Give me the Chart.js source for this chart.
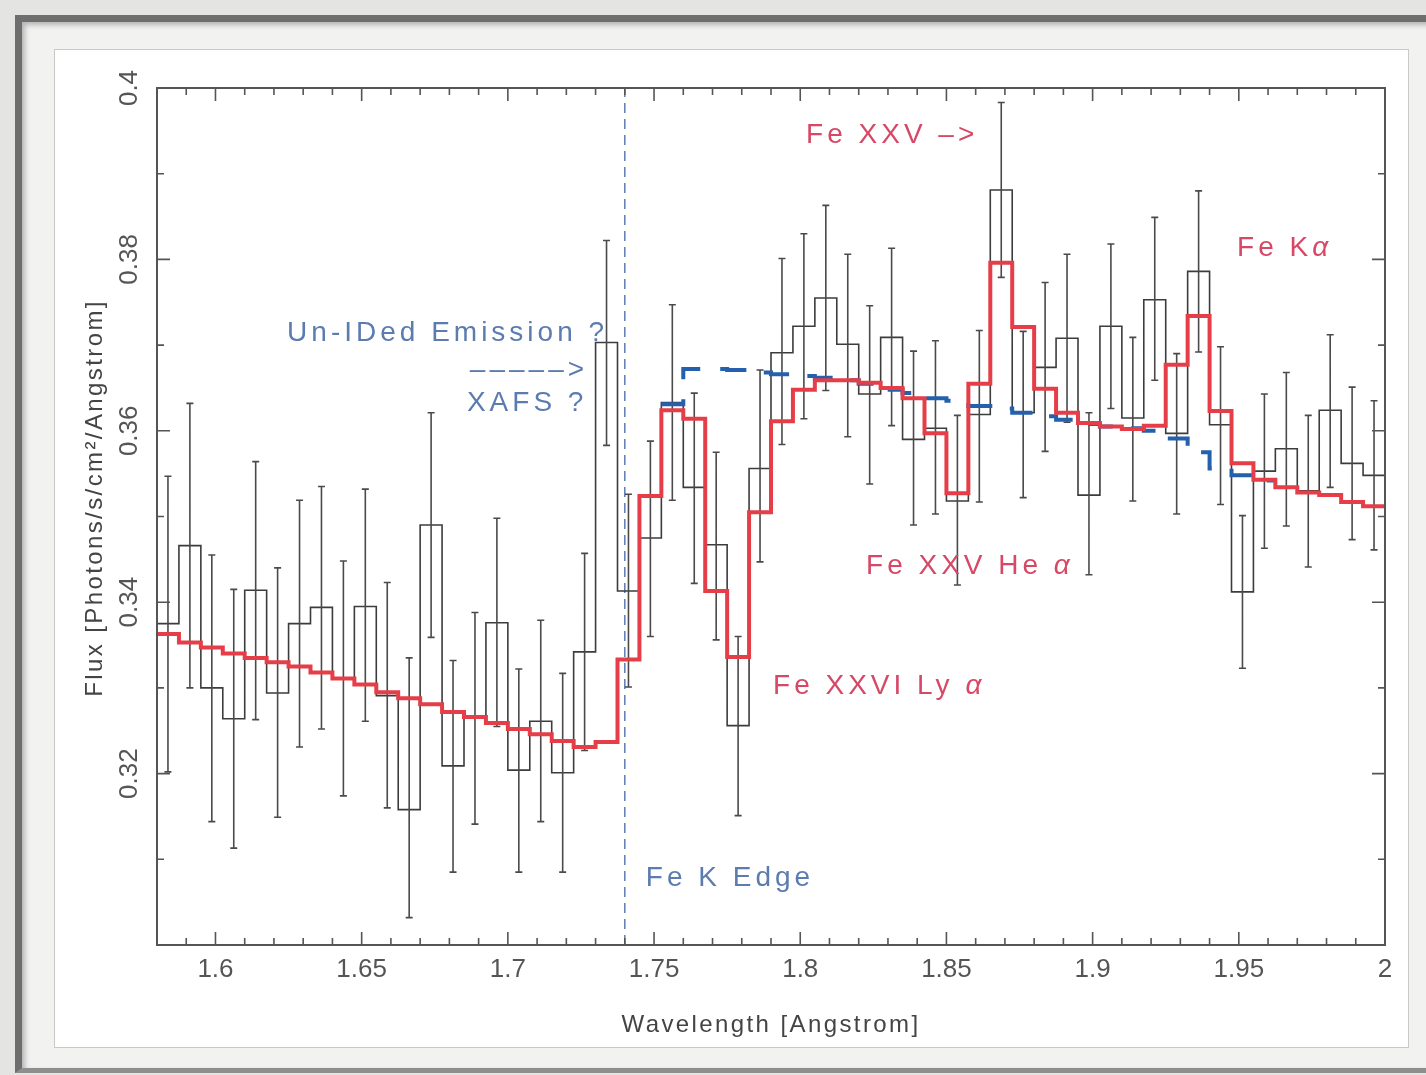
<!DOCTYPE html>
<html>
<head>
<meta charset="utf-8">
<title>Fe K region spectrum</title>
<script src="https://cdn.jsdelivr.net/npm/chart.js@4.4.1/dist/chart.umd.min.js"></script>
<style>
  html, body { margin: 0; padding: 0; }
  body { width: 1426px; height: 1075px; overflow: hidden; position: relative; background: #e4e4e2; }
  .frame {
    position: absolute; left: 15px; top: 15px; width: 1440px; height: 1046px;
    background: #f2f2f1;
    border-left: 7px solid #6e6e6e; border-top: 7px solid #6e6e6e; border-bottom: 5px solid #8e8e8e;
    box-shadow: inset 3px 3px 5px rgba(0, 0, 0, 0.25);
  }
  #spectrum { position: absolute; left: 55px; top: 50px; background: #fff; box-shadow: 0 0 0 1px #c9c9c9; }
</style>
</head>
<body>
<div class="frame"></div>
<canvas id="spectrum" width="1353" height="997"></canvas>
<script>
// 56 bins of 0.0075 A from 1.58 to 2.0 A
const X_MIN = 1.58;
const X_MAX = 2.0;
const BIN = 0.0075;
const Y_MIN = 0.30;
const Y_MAX = 0.40;
const FE_K_EDGE = 1.74;

// measured flux per bin and its error bar ends
const flux = [
  0.3375, 0.3466, 0.3300, 0.3264, 0.3414, 0.3294, 0.3375, 0.3394, 0.3311, 0.3395,
  0.3291, 0.3158, 0.3490, 0.3209, 0.3265, 0.3376, 0.3204, 0.3261, 0.3201, 0.3342,
  0.3703, 0.3413, 0.3475, 0.3633, 0.3534, 0.3467, 0.3256, 0.3556, 0.3691, 0.3722,
  0.3755, 0.3701, 0.3643, 0.3709, 0.3590, 0.3603, 0.3518, 0.3619, 0.3881, 0.3621,
  0.3674, 0.3708, 0.3525, 0.3722, 0.3615, 0.3753, 0.3597, 0.3786, 0.3607, 0.3412,
  0.3553, 0.3579, 0.3530, 0.3624, 0.3562, 0.3548
];
const fluxHi = [
  0.3547, 0.3632, 0.3455, 0.3415, 0.3564, 0.3440, 0.3519, 0.3535, 0.3448, 0.3532,
  0.3423, 0.3335, 0.3621, 0.3332, 0.3388, 0.3498, 0.3322, 0.3379, 0.3317, 0.3457,
  0.3822, 0.3526, 0.3588, 0.3747, 0.3644, 0.3575, 0.3360, 0.3671, 0.3801, 0.3830,
  0.3863, 0.3806, 0.3746, 0.3813, 0.3693, 0.3705, 0.3618, 0.3717, 0.3983, 0.3716,
  0.3773, 0.3806, 0.3621, 0.3818, 0.3709, 0.3849, 0.3690, 0.3880, 0.3698, 0.3501,
  0.3643, 0.3668, 0.3618, 0.3712, 0.3651, 0.3635
];
const fluxLo = [
  0.3202, 0.3300, 0.3144, 0.3113, 0.3263, 0.3149, 0.3231, 0.3252, 0.3174, 0.3261,
  0.3160, 0.3032, 0.3359, 0.3085, 0.3141, 0.3255, 0.3085, 0.3144, 0.3085, 0.3227,
  0.3583, 0.3301, 0.3360, 0.3519, 0.3422, 0.3356, 0.3151, 0.3447, 0.3584, 0.3614,
  0.3647, 0.3593, 0.3538, 0.3606, 0.3490, 0.3503, 0.3420, 0.3517, 0.3779, 0.3522,
  0.3576, 0.3610, 0.3432, 0.3626, 0.3518, 0.3659, 0.3503, 0.3692, 0.3514, 0.3323,
  0.3463, 0.3489, 0.3441, 0.3534, 0.3473, 0.3461
];

// full model with the edge and the lines
const model = [
  0.3363, 0.3353, 0.3347, 0.3340, 0.3335, 0.3330, 0.3325, 0.3318, 0.3311, 0.3304,
  0.3295, 0.3288, 0.3281, 0.3272, 0.3266, 0.3259, 0.3252, 0.3246, 0.3238, 0.3231,
  0.3237, 0.3333, 0.3524, 0.3624, 0.3614, 0.3413, 0.3336, 0.3505, 0.3611, 0.3648,
  0.3659, 0.3659, 0.3656, 0.3650, 0.3638, 0.3597, 0.3527, 0.3655, 0.3796, 0.3721,
  0.3649, 0.3621, 0.3609, 0.3605, 0.3602, 0.3606, 0.3677, 0.3734, 0.3623, 0.3562,
  0.3543, 0.3534, 0.3528, 0.3525, 0.3517, 0.3512
];

// edge-only model, shown where it leaves the full model
const edgeModel = [
  null, null, null, null, null, null, null, null, null, null,
  null, null, null, null, null, null, null, null, null, null,
  null, null, null, 0.3631, 0.3672, 0.3672, 0.3671, 0.3668, 0.3666, 0.3664,
  0.3662, 0.3659, 0.3655, 0.3648, 0.3644, 0.3638, 0.3635, 0.3629, 0.3626, 0.3621,
  0.3617, 0.3613, 0.3608, 0.3605, 0.3603, 0.3600, 0.3591, 0.3575, 0.3556, 0.3548,
  0.3542, null, null, null, null, null
];

const xTicks = [1.6, 1.65, 1.7, 1.75, 1.8, 1.85, 1.9, 1.95, 2.0];
const xTickLabels = ['1.6', '1.65', '1.7', '1.75', '1.8', '1.85', '1.9', '1.95', '2'];
const yTicks = [0.32, 0.34, 0.36, 0.38, 0.40];
const yTickLabels = ['0.32', '0.34', '0.36', '0.38', '0.4'];

const RED = 'rgb(229, 62, 72)';
const BLUE = 'rgb(36, 96, 172)';
const EDGE_BLUE = 'rgb(92, 124, 184)';
const NOTE_BLUE = 'rgb(92, 124, 176)';
const NOTE_RED = 'rgb(214, 72, 102)';
const INK = '#4a4a4a';
const FONT = "'Liberation Sans', Arial, sans-serif";

const notes = [
  { text: 'Un-IDed Emission ?', x: 1.6245, y: 0.3714, color: NOTE_BLUE },
  { text: '–––––>', x: 1.6870, y: 0.3671, color: NOTE_BLUE },
  { text: 'XAFS ?', x: 1.6860, y: 0.3632, color: NOTE_BLUE },
  { text: 'Fe K Edge', x: 1.7472, y: 0.3078, color: NOTE_BLUE },
  { text: 'Fe XXV –>', x: 1.8020, y: 0.3945, color: NOTE_RED },
  { text: 'Fe Kα', x: 1.9494, y: 0.3813, color: NOTE_RED },
  { text: 'Fe XXV He α', x: 1.8225, y: 0.3442, color: NOTE_RED },
  { text: 'Fe XXVI Ly α', x: 1.7907, y: 0.3302, color: NOTE_RED }
];

const binEdge = i => X_MIN + i * BIN;

// one point per bin edge; each run of bins is closed at its right edge
function stepPoints(values) {
  const pts = [];
  values.forEach((v, i) => {
    pts.push({ x: binEdge(i), y: v });
    const next = values[i + 1];
    if (v !== null && (next === undefined || next === null)) {
      pts.push({ x: binEdge(i + 1), y: v });
    }
  });
  return pts;
}

// text with the Greek alpha set in italics
function drawNote(ctx, text, px, py) {
  let cx = px;
  text.split(/(α)/).forEach(part => {
    if (!part) return;
    ctx.font = (part === 'α' ? 'italic ' : '') + '28px ' + FONT;
    ctx.fillText(part, cx, py);
    cx += ctx.measureText(part).width;
  });
}

const errorBars = {
  id: 'errorBars',
  afterDatasetDraw(chart, args) {
    if (args.index !== 2) return;
    const { ctx, scales: { x, y } } = chart;
    ctx.save();
    ctx.strokeStyle = INK;
    ctx.lineWidth = 1.6;
    ctx.beginPath();
    flux.forEach((v, i) => {
      const px = x.getPixelForValue(binEdge(i) + BIN / 2);
      const top = y.getPixelForValue(fluxHi[i]);
      const bot = y.getPixelForValue(fluxLo[i]);
      ctx.moveTo(px, top); ctx.lineTo(px, bot);
      ctx.moveTo(px - 3.5, top); ctx.lineTo(px + 3.5, top);
      ctx.moveTo(px - 3.5, bot); ctx.lineTo(px + 3.5, bot);
    });
    ctx.stroke();
    ctx.restore();
  }
};

const axisFrame = {
  id: 'axisFrame',
  afterDatasetsDraw(chart) {
    const { ctx, chartArea: a, scales: { x, y } } = chart;
    ctx.save();

    // box and inward ticks on all four sides
    ctx.strokeStyle = '#555';
    ctx.lineWidth = 2;
    ctx.strokeRect(a.left, a.top, a.right - a.left, a.bottom - a.top);
    ctx.lineWidth = 1.6;
    ctx.beginPath();
    for (let k = 158; k <= 200; k++) {
      const px = x.getPixelForValue(k / 100);
      const len = k % 5 === 0 ? 13 : 7;
      ctx.moveTo(px, a.bottom); ctx.lineTo(px, a.bottom - len);
      ctx.moveTo(px, a.top); ctx.lineTo(px, a.top + len);
    }
    for (let k = 30; k <= 40; k++) {
      const py = y.getPixelForValue(k / 100);
      const len = k % 2 === 0 ? 13 : 7;
      ctx.moveTo(a.left, py); ctx.lineTo(a.left + len, py);
      ctx.moveTo(a.right, py); ctx.lineTo(a.right - len, py);
    }
    ctx.stroke();

    // rotated y tick labels
    ctx.fillStyle = '#555';
    ctx.font = '26px ' + FONT;
    ctx.textAlign = 'center';
    ctx.textBaseline = 'middle';
    yTicks.forEach((v, i) => {
      ctx.save();
      ctx.translate(a.left - 27, y.getPixelForValue(v));
      ctx.rotate(-Math.PI / 2);
      ctx.fillText(yTickLabels[i], 0, 0);
      ctx.restore();
    });

    // axis titles
    ctx.fillStyle = '#444';
    ctx.font = '24px ' + FONT;
    ctx.letterSpacing = '2.4px';
    ctx.fillText('Wavelength [Angstrom]', (a.left + a.right) / 2, a.bottom + 80);
    ctx.save();
    ctx.translate(a.left - 62, a.top + 410);
    ctx.rotate(-Math.PI / 2);
    ctx.fillText('Flux [Photons/s/cm²/Angstrom]', 0, 0);
    ctx.restore();

    // line identifications
    ctx.letterSpacing = '4px';
    ctx.textAlign = 'left';
    notes.forEach(n => {
      ctx.fillStyle = n.color;
      drawNote(ctx, n.text, x.getPixelForValue(n.x), y.getPixelForValue(n.y));
    });
    ctx.restore();
  }
};

const ctx = document.getElementById('spectrum').getContext('2d');

new Chart(ctx, {
  type: 'line',
  data: {
    datasets: [
      {
        label: 'Model',
        data: stepPoints(model),
        stepped: true,
        borderColor: RED,
        borderWidth: 4,
        pointRadius: 0,
        fill: false
      },
      {
        label: 'Edge only',
        data: stepPoints(edgeModel),
        stepped: true,
        borderColor: BLUE,
        borderWidth: 4,
        borderDash: [27, 20],
        pointRadius: 0,
        fill: false
      },
      {
        label: 'HETG data',
        data: stepPoints(flux),
        stepped: true,
        borderColor: '#3c3c3c',
        borderWidth: 1.6,
        pointRadius: 0,
        fill: false
      },
      {
        label: 'Fe K edge',
        data: [{ x: FE_K_EDGE, y: Y_MIN }, { x: FE_K_EDGE, y: Y_MAX }],
        borderColor: EDGE_BLUE,
        borderWidth: 1.5,
        borderDash: [10, 6],
        pointRadius: 0,
        fill: false
      }
    ]
  },
  options: {
    responsive: false,
    animation: false,
    devicePixelRatio: 1,
    spanGaps: false,
    layout: { padding: { left: 0, top: 38, right: 23, bottom: 0 } },
    plugins: {
      legend: { display: false },
      tooltip: { enabled: false }
    },
    scales: {
      x: {
        type: 'linear',
        min: X_MIN,
        max: X_MAX,
        grid: { display: false, drawTicks: false },
        border: { display: false },
        afterBuildTicks: scale => { scale.ticks = xTicks.map(v => ({ value: v })); },
        afterFit: scale => { scale.height = 102; },
        ticks: {
          autoSkip: false,
          maxRotation: 0,
          padding: 9,
          color: '#555',
          font: { family: FONT, size: 26 },
          callback: (v, i) => xTickLabels[i]
        }
      },
      y: {
        type: 'linear',
        min: Y_MIN,
        max: Y_MAX,
        grid: { display: false, drawTicks: false },
        border: { display: false },
        afterBuildTicks: scale => { scale.ticks = yTicks.map(v => ({ value: v })); },
        afterFit: scale => { scale.width = 102; },
        ticks: { display: false }
      }
    }
  },
  plugins: [errorBars, axisFrame]
});
</script>
</body>
</html>
